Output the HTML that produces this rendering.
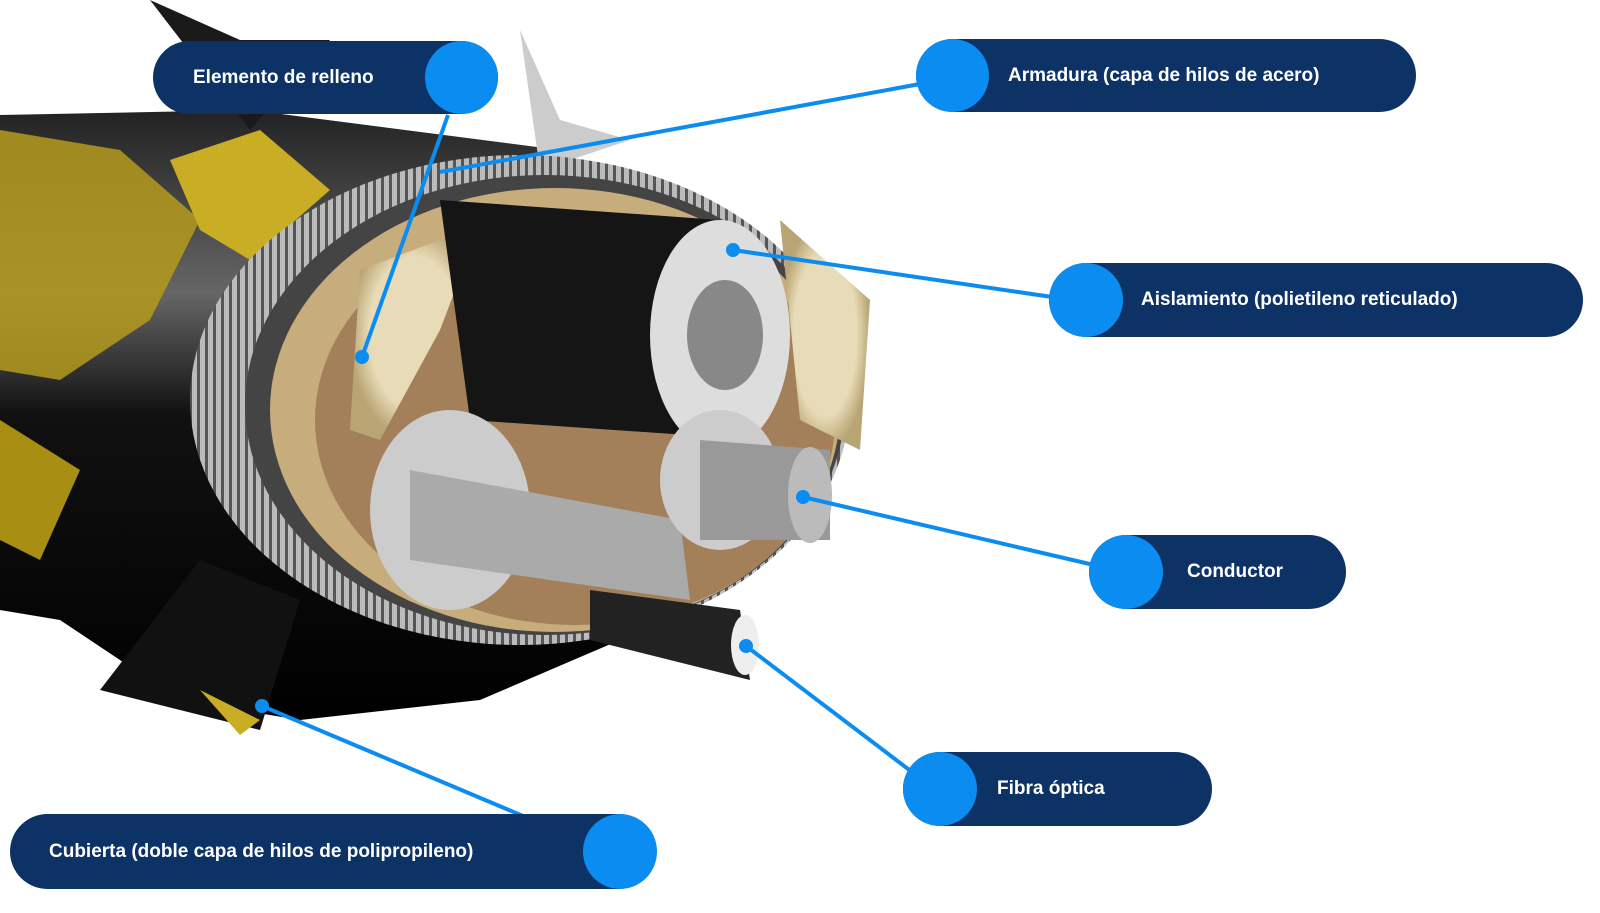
<!DOCTYPE html>
<html><head><meta charset="utf-8"><style>
html,body{margin:0;padding:0;background:#fff;width:1600px;height:913px;overflow:hidden;font-family:"Liberation Sans",sans-serif}
.p{position:absolute;background:#0d3266;color:#fff;font-weight:bold;font-size:19px;border-radius:38px;display:flex;align-items:center;box-sizing:border-box}
.c{position:absolute;background:#0a8cf0;border-radius:50%}
svg{position:absolute;left:0;top:0}
</style></head><body>
<svg width="1600" height="913" viewBox="0 0 1600 913">
<defs>
<linearGradient id="bk" x1="0" y1="0" x2="0" y2="1"><stop offset="0" stop-color="#222"/><stop offset=".3" stop-color="#666"/><stop offset=".5" stop-color="#111"/><stop offset="1" stop-color="#000"/></linearGradient>
<radialGradient id="gd" cx=".5" cy=".5" r=".5"><stop offset=".7" stop-color="#e8dcb8"/><stop offset="1" stop-color="#b9a474"/></radialGradient>
<pattern id="ar" width="8" height="8" patternUnits="userSpaceOnUse"><rect width="8" height="8" fill="#555"/><rect width="5" height="8" fill="#bbb"/></pattern>
</defs>
<!-- cable body -->
<path d="M0 115 L250 110 L560 150 L640 200 L620 640 L480 700 L300 720 L180 700 L60 620 L0 610 Z" fill="url(#bk)"/>
<path d="M0 130 L120 150 L200 220 L150 320 L60 380 L0 370Z" fill="#b59a1c" opacity=".85"/>
<path d="M0 420 L80 470 L40 560 L0 540Z" fill="#a88f14"/>
<path d="M170 160 L260 130 L330 190 L250 260 L200 230Z" fill="#c9ad24"/>
<path d="M150 0 L240 40 L330 40 L250 130Z" fill="#1a1a1a"/>
<path d="M520 30 L560 120 L630 140 L540 170Z" fill="#ccc"/>
<path d="M100 690 L200 560 L300 600 L260 730Z" fill="#111"/>
<path d="M200 690 L260 720 L240 735Z" fill="#c9ad24"/>
<!-- armour ring -->
<ellipse cx="520" cy="400" rx="330" ry="245" fill="url(#ar)"/>
<ellipse cx="545" cy="405" rx="300" ry="230" fill="#444"/>
<ellipse cx="555" cy="410" rx="285" ry="222" fill="#c8ad7c"/>
<ellipse cx="575" cy="420" rx="260" ry="205" fill="#a37f5a"/>
<path d="M360 270 L480 225 L440 330 L380 440 L350 430Z" fill="url(#gd)"/>
<path d="M780 220 L870 300 L860 450 L800 420Z" fill="url(#gd)"/>
<!-- black insulated cores -->
<path d="M440 200 L720 220 L760 440 L470 420Z" fill="#151515"/>
<ellipse cx="720" cy="335" rx="70" ry="115" fill="#ddd"/>
<ellipse cx="725" cy="335" rx="38" ry="55" fill="#888"/>
<ellipse cx="450" cy="510" rx="80" ry="100" fill="#ccc"/>
<path d="M410 470 L680 520 L690 600 L410 560Z" fill="#aaa"/>
<ellipse cx="720" cy="480" rx="60" ry="70" fill="#ccc"/>
<path d="M700 440 L830 450 L830 540 L700 540Z" fill="#999"/>
<ellipse cx="810" cy="495" rx="22" ry="48" fill="#bbb"/>
<!-- fiber -->
<path d="M590 590 L740 610 L750 680 L590 640Z" fill="#222"/>
<ellipse cx="745" cy="645" rx="14" ry="30" fill="#eee"/>
<!-- connectors -->
<g stroke="#0a8cf0" stroke-width="4" fill="#0a8cf0">
<line x1="448" y1="115" x2="362" y2="357"/><circle cx="362" cy="357" r="5"/>
<line x1="920" y1="84" x2="440" y2="172"/>
<line x1="733" y1="250" x2="1052" y2="297"/><circle cx="733" cy="250" r="5"/>
<line x1="803" y1="497" x2="1094" y2="565"/><circle cx="803" cy="497" r="5"/>
<line x1="746" y1="646" x2="912" y2="772"/><circle cx="746" cy="646" r="5"/>
<line x1="262" y1="706" x2="592" y2="845"/><circle cx="262" cy="706" r="5"/>
</g>
</svg>
<div class="p" style="left:153px;top:41px;width:345px;height:73px;padding-left:40px">Elemento de relleno</div>
<div class="c" style="left:425px;top:41px;width:73px;height:73px"></div>
<div class="p" style="left:916px;top:39px;width:500px;height:73px;padding-left:92px">Armadura (capa de hilos de acero)</div>
<div class="c" style="left:916px;top:39px;width:73px;height:73px"></div>
<div class="p" style="left:1049px;top:263px;width:534px;height:74px;padding-left:92px">Aislamiento (polietileno reticulado)</div>
<div class="c" style="left:1049px;top:263px;width:74px;height:74px"></div>
<div class="p" style="left:1089px;top:535px;width:257px;height:74px;padding-left:98px">Conductor</div>
<div class="c" style="left:1089px;top:535px;width:74px;height:74px"></div>
<div class="p" style="left:903px;top:752px;width:309px;height:74px;padding-left:94px">Fibra óptica</div>
<div class="c" style="left:903px;top:752px;width:74px;height:74px"></div>
<div class="p" style="left:10px;top:814px;width:646px;height:75px;padding-left:39px">Cubierta (doble capa de hilos de polipropileno)</div>
<div class="c" style="left:583px;top:814px;width:74px;height:75px"></div>
</body></html>
